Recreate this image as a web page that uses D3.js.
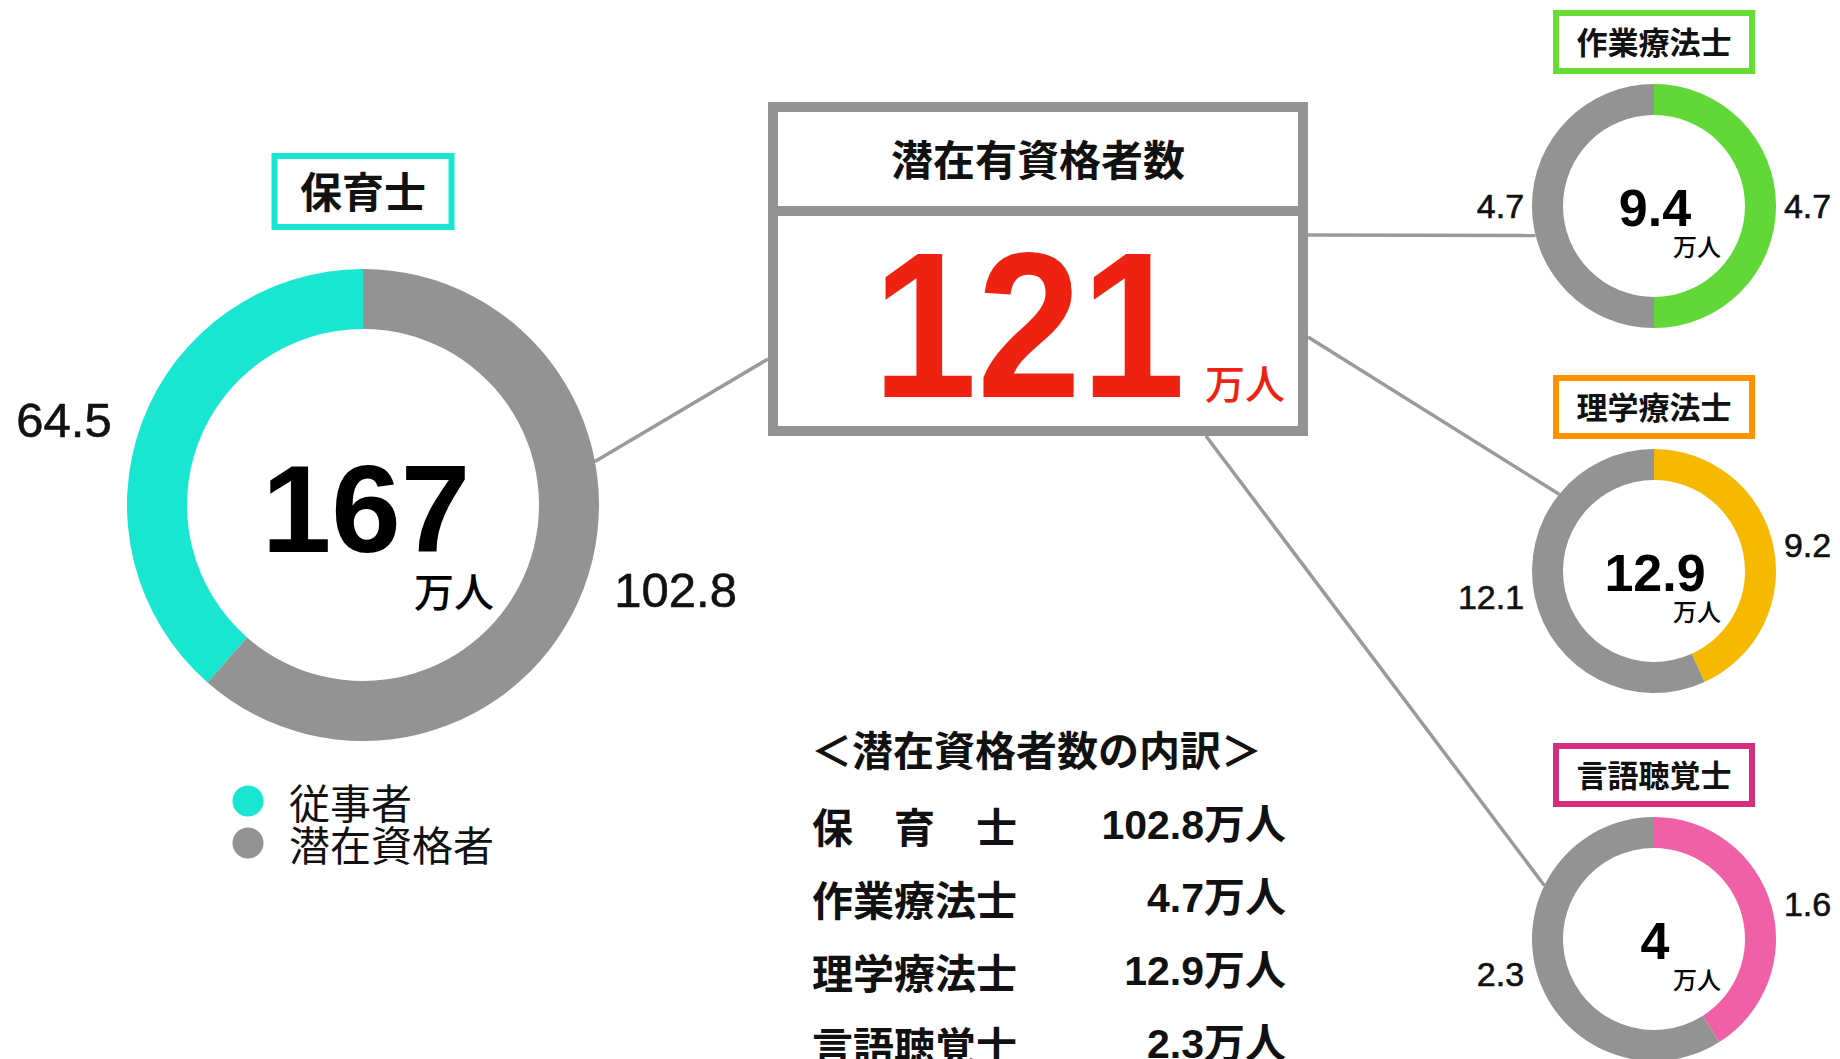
<!DOCTYPE html>
<html lang="ja">
<head>
<meta charset="utf-8">
<title>潜在有資格者数</title>
<script src="https://cdn.jsdelivr.net/npm/d3@7"></script>
<style>
  html, body { margin: 0; padding: 0; background: #ffffff; }
  svg { display: block; }
  .num { font-family: "Liberation Sans", Arial, "Noto Sans CJK JP", sans-serif; }
  .jp  { font-family: "Noto Sans CJK JP", "Liberation Sans", sans-serif; }
</style>
</head>
<body>
<svg id="chart" width="1840" height="1059"></svg>
<script>
// ---- data (万人) ----
const professions   = ["保育士", "作業療法士", "理学療法士", "言語聴覚士"];
const workers       = [64.5, 4.7, 9.2, 1.6];     // 従事者
const potentials    = [102.8, 4.7, 12.1, 2.3];   // 潜在資格者
const totalLabels   = ["167", "9.4", "12.9", "4"];
const potentialTotal = 121;
const breakdownNames  = ["保　育　士", "作業療法士", "理学療法士", "言語聴覚士"];
const breakdownValues = [102.8, 4.7, 12.9, 2.3];
const legendLabels  = ["従事者", "潜在資格者"];

// ---- styling ----
const GREY = "#939393";
const segColors = ["#19e6d0", "#62d838", "#f6b900", "#ef60a6"];
const boxColors = ["#19e6d0", "#66dd33", "#ff9200", "#d42f7e"];
const RED = "#ee2211";

const svg = d3.select("#chart");
svg.append("rect").attr("width", 1840).attr("height", 1059).attr("fill", "#fff");

// donut layout: big one on the left, three small ones stacked on the right
const donuts = [
  { cx: 363,  cy: 505, ro: 236, ri: 176, clockwise: false, titleH: 77, titleW: 183, titleFs: 42, totalFs: 125, unitFs: 40, labelFs: 49 },
  { cx: 1654, cy: 206, ro: 122, ri: 91,  clockwise: true,  titleH: 64, titleW: 202, titleFs: 31, totalFs: 52,  unitFs: 24, labelFs: 34 },
  { cx: 1654, cy: 571, ro: 122, ri: 91,  clockwise: true,  titleH: 64, titleW: 202, titleFs: 31, totalFs: 52,  unitFs: 24, labelFs: 34 },
  { cx: 1654, cy: 939, ro: 122, ri: 91,  clockwise: true,  titleH: 64, titleW: 202, titleFs: 31, totalFs: 52,  unitFs: 24, labelFs: 34 }
];

// ---- central summary box ----
const box = { x0: 768, y0: 102, x1: 1308, y1: 436, divY: 211, sw: 10 };

// connectors from the summary box to each donut (angle in degrees, clockwise from 12 o'clock)
const connectors = [
  { from: [box.x0, 359],  donut: 0, angle: 79.4 },
  { from: [box.x1, 235],  donut: 1, angle: 256 },
  { from: [box.x1, 337],  donut: 2, angle: 309 },
  { from: [1206, box.y1], donut: 3, angle: 296 }
];
const gLines = svg.append("g");
connectors.forEach(c => {
  const d = donuts[c.donut];
  const a = c.angle * Math.PI / 180;
  gLines.append("line")
    .attr("x1", c.from[0]).attr("y1", c.from[1])
    .attr("x2", d.cx + d.ro * Math.sin(a)).attr("y2", d.cy - d.ro * Math.cos(a))
    .attr("stroke", "#9a9a9a").attr("stroke-width", 3.5);
});

// ---- donuts ----
donuts.forEach((d, i) => {
  const g = svg.append("g").attr("transform", `translate(${d.cx},${d.cy})`);
  const parts = [
    { key: "worker", value: workers[i], color: segColors[i] },
    { key: "potential", value: potentials[i], color: GREY }
  ];
  const pie = d3.pie().sort(null).value(p => p.value)
    .startAngle(0).endAngle(d.clockwise ? 2 * Math.PI : -2 * Math.PI);
  const arcs = pie(parts);
  const arc = d3.arc().innerRadius(d.ri).outerRadius(d.ro);

  g.selectAll("path").data(arcs).join("path")
    .attr("d", arc)
    .attr("fill", a => a.data.color);

  // value labels beside the ring, at the height of each segment's mid-angle
  const rl = d.ro * 1.02;
  const gap = d.ro * 0.065;
  arcs.forEach(a => {
    const mid = (a.startAngle + a.endAngle) / 2;
    const right = Math.sin(mid) > 0;
    g.append("text").attr("class", "num")
      .attr("x", right ? d.ro + gap : -(d.ro + gap))
      .attr("y", -rl * Math.cos(mid))
      .attr("dominant-baseline", "central")
      .attr("text-anchor", right ? "start" : "end")
      .attr("font-size", d.labelFs)
      .attr("fill", "#111")
      .attr("stroke", "#111")
      .attr("stroke-width", 0.6)
      .text(a.data.value);
  });

  // total in the hole
  const big = i === 0;
  g.append("text").attr("class", "num")
    .attr("x", big ? 3 : 1)
    .attr("y", big ? 47 : 20)
    .attr("text-anchor", "middle")
    .attr("font-size", d.totalFs)
    .attr("font-weight", 700)
    .attr("fill", "#000")
    .text(totalLabels[i]);
  g.append("text").attr("class", "jp")
    .attr("x", big ? 51 : 19)
    .attr("y", big ? 102 : 50)
    .attr("font-size", d.unitFs)
    .attr("font-weight", 500)
    .attr("fill", "#000")
    .text("万人");

  // title box above the ring
  const sw = 6;
  const top = big ? -352 : -196;
  g.append("rect")
    .attr("x", -d.titleW / 2 + sw / 2)
    .attr("y", top + sw / 2)
    .attr("width", d.titleW - sw)
    .attr("height", d.titleH - sw)
    .attr("fill", "#fff")
    .attr("stroke", boxColors[i])
    .attr("stroke-width", sw);
  g.append("text").attr("class", "jp")
    .attr("x", 0)
    .attr("y", top + d.titleH / 2 - 2)
    .attr("dominant-baseline", "central")
    .attr("text-anchor", "middle")
    .attr("font-size", d.titleFs)
    .attr("font-weight", 700)
    .attr("fill", "#111")
    .text(professions[i]);
});

// ---- summary box ----
svg.append("rect")
  .attr("x", box.x0 + box.sw / 2).attr("y", box.y0 + box.sw / 2)
  .attr("width", box.x1 - box.x0 - box.sw).attr("height", box.y1 - box.y0 - box.sw)
  .attr("fill", "#fff").attr("stroke", GREY).attr("stroke-width", box.sw);
svg.append("line")
  .attr("x1", box.x0).attr("x2", box.x1)
  .attr("y1", box.divY).attr("y2", box.divY)
  .attr("stroke", GREY).attr("stroke-width", box.sw);
svg.append("text").attr("class", "jp")
  .attr("x", (box.x0 + box.x1) / 2).attr("y", 157)
  .attr("dominant-baseline", "central").attr("text-anchor", "middle")
  .attr("font-size", 42).attr("font-weight", 700).attr("fill", "#111")
  .text("潜在有資格者数");
// big red total, slightly condensed
svg.append("text").attr("class", "num")
  .attr("transform", "translate(1029,397) scale(0.9,1)")
  .attr("text-anchor", "middle")
  .attr("font-size", 208).attr("font-weight", 700).attr("fill", RED)
  .text(potentialTotal);
svg.append("text").attr("class", "jp")
  .attr("x", 1205).attr("y", 399)
  .attr("font-size", 40).attr("font-weight", 500).attr("fill", RED)
  .text("万人");

// ---- breakdown table ----
const tbl = svg.append("g");
tbl.append("text").attr("class", "jp")
  .attr("x", 811).attr("y", 748)
  .attr("dominant-baseline", "central")
  .attr("font-size", 41).attr("font-weight", 700).attr("fill", "#111")
  .text("＜潜在資格者数の内訳＞");
const rowY = d3.scalePoint().domain(breakdownNames).range([825, 1044]);
breakdownNames.forEach((n, i) => {
  tbl.append("text").attr("class", "jp")
    .attr("x", 812).attr("y", rowY(n))
    .attr("dominant-baseline", "central")
    .attr("font-size", 41).attr("font-weight", 700).attr("fill", "#111")
    .text(n);
  tbl.append("text").attr("class", "num")
    .attr("x", 1286).attr("y", rowY(n))
    .attr("dominant-baseline", "central").attr("text-anchor", "end")
    .attr("font-size", 41).attr("font-weight", 700).attr("fill", "#111")
    .text(breakdownValues[i] + "万人");
});

// ---- legend ----
const legColor = d3.scaleOrdinal().domain(legendLabels).range([segColors[0], GREY]);
const legY = d3.scalePoint().domain(legendLabels).range([801, 843]);
legendLabels.forEach(l => {
  svg.append("circle").attr("cx", 248).attr("cy", legY(l)).attr("r", 15.5).attr("fill", legColor(l));
  svg.append("text").attr("class", "jp")
    .attr("x", 289).attr("y", legY(l))
    .attr("dominant-baseline", "central")
    .attr("font-size", 41).attr("font-weight", 400).attr("fill", "#111")
    .text(l);
});
</script>
</body>
</html>
